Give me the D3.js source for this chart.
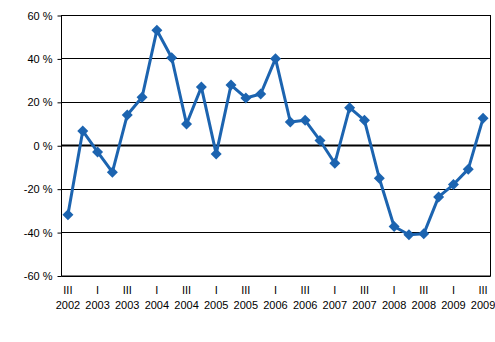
<!DOCTYPE html>
<html>
<head>
<meta charset="utf-8">
<script src="https://cdn.jsdelivr.net/npm/d3@7"></script>
<style>
body { margin: 0; background: #fff; }
text { font-family: "Liberation Sans", Arial, sans-serif; font-size: 11px; fill: #000; }
</style>
</head>
<body>
<script>
// quarterly change, 2002 Q3 .. 2009 Q3
var quarters = ['III','IV','I','II','III','IV','I','II','III','IV','I','II','III','IV','I','II','III','IV','I','II','III','IV','I','II','III','IV','I','II','III'];
var years = [2002,2002,2003,2003,2003,2003,2004,2004,2004,2004,2005,2005,2005,2005,2006,2006,2006,2006,2007,2007,2007,2007,2008,2008,2008,2008,2009,2009,2009];
var values = [-32.0, 6.6, -3.1, -12.4, 13.9, 22.1, 53.0, 40.3, 9.8, 26.8, -4.0, 27.7, 21.8, 23.6, 39.9, 10.7, 11.5, 2.2, -8.3, 17.3, 11.5, -15.2, -37.4, -41.2, -40.8, -23.8, -18.1, -11.0, 12.4];
var yTicks = [-60, -40, -20, 0, 20, 40, 60];

var W = 495, H = 342;
var pLeft = 61.5, pRight = 490.5, pTop = 15, pBottom = 275.5;

var svg = d3.select('body').append('svg')
    .attr('width', W)
    .attr('height', H);

var x = d3.scaleBand()
    .domain(d3.range(values.length))
    .range([pLeft - 1, pRight]);

var y = d3.scaleLinear()
    .domain([-60, 60])
    .range([pBottom, pTop]);

// grid lines
svg.selectAll('.grid').data(yTicks).enter().append('line')
    .attr('x1', pLeft).attr('x2', pRight)
    .attr('y1', function(d){ return Math.round(y(d)) + 0.5; })
    .attr('y2', function(d){ return Math.round(y(d)) + 0.5; })
    .attr('stroke', '#000')
    .attr('stroke-width', function(d){ return d === 0 ? 2 : 1; });

// frame
svg.append('rect')
    .attr('x', pLeft).attr('y', pTop + 0.5)
    .attr('width', pRight - pLeft).attr('height', pBottom - pTop)
    .attr('fill', 'none').attr('stroke', '#000');

// y axis
var yAxis = svg.append('g')
    .attr('transform', 'translate(' + pLeft + ',0.5)')
    .call(d3.axisLeft(y).tickValues(yTicks).tickSize(4).tickPadding(5)
        .tickFormat(function(d){ return d + ' %'; }));
yAxis.select('.domain').remove();
yAxis.selectAll('line').attr('stroke', '#000');
yAxis.selectAll('text').style('font-size', '11px').style('font-family', '"Liberation Sans", Arial, sans-serif').attr('fill', '#000');

// x labels, every other quarter
var xl = svg.append('g');
var idx = d3.range(0, values.length, 2);
xl.selectAll('.q').data(idx).enter().append('text')
    .attr('x', function(i){ return x(i) + x.bandwidth() / 2; })
    .attr('y', 294)
    .attr('text-anchor', 'middle')
    .text(function(i){ return quarters[i]; });
xl.selectAll('.yr').data(idx).enter().append('text')
    .attr('x', function(i){ return x(i) + x.bandwidth() / 2; })
    .attr('y', 309)
    .attr('text-anchor', 'middle')
    .text(function(i){ return years[i]; });

// line
var line = d3.line()
    .x(function(d, i){ return x(i) + x.bandwidth() / 2; })
    .y(function(d){ return y(d); });

svg.append('path')
    .datum(values)
    .attr('d', line)
    .attr('fill', 'none')
    .attr('stroke', '#1c64b0')
    .attr('stroke-width', 3)
    .attr('stroke-linejoin', 'round');

svg.selectAll('.pt').data(values).enter().append('path')
    .attr('transform', function(d, i){ return 'translate(' + (x(i) + x.bandwidth() / 2) + ',' + y(d) + ')'; })
    .attr('d', 'M0,-5.5L5.5,0L0,5.5L-5.5,0Z')
    .attr('fill', '#1c64b0');
</script>
</body>
</html>
